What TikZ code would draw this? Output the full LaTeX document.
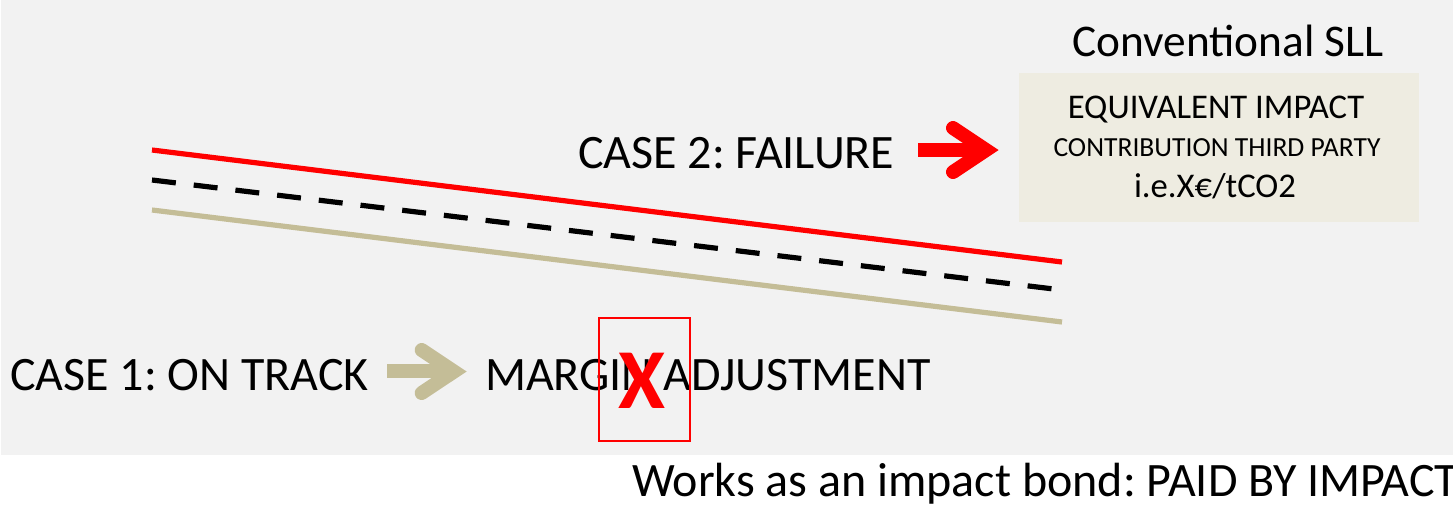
\documentclass[tikz,border=0pt]{standalone}
\usepackage{fontspec}
\setmainfont{Carlito}
\frenchspacing
\definecolor{bggray}{HTML}{F2F2F2}
\definecolor{tan}{HTML}{C4BD97}
\definecolor{boxtan}{HTML}{EEECE1}
\definecolor{pptred}{HTML}{FF0000}
\begin{document}
\begin{tikzpicture}[x=0.75pt,y=-0.75pt,
  txt/.style={inner sep=0pt,outer sep=0pt,anchor=base,font=\fontsize{36}{40}\selectfont},
  boxtxt/.style={inner sep=0pt,outer sep=0pt,anchor=base,font=\fontsize{26}{30}\selectfont},
  boxsmall/.style={inner sep=0pt,outer sep=0pt,anchor=base,font=\fontsize{20.7}{24}\selectfont},
  trend/.style={line width=3.9pt},
  shaft/.style={line width=10pt},
  chevron/.style={line width=10.5pt,line cap=round,line join=miter}]
\useasboundingbox (0,0) rectangle (1453,504);
\fill[white] (0,0) rectangle (1453,504);
\fill[bggray] (1,0) rectangle (1453,455);
% trend lines
\draw[trend,pptred] (152,150) -- (1062,262);
\draw[trend,black,dash pattern=on 18pt off 13.5pt] (152,180) -- (1062,290);
\draw[trend,tan] (152,210) -- (1062,322);
% box
\node[fill=boxtan,minimum width=300pt,minimum height=111.75pt,inner sep=0pt,anchor=north west] (box) at (1019,73) {};
\node[txt,font=\fontsize{34}{38}\selectfont] (title) at (1228,56) {Conventional SLL};
\node[boxtxt] (eq) at (1216,118) {EQUIVALENT IMPACT};
\node[boxsmall] (contr) at (1217,156) {CONTRIBUTION THIRD PARTY};
\node[boxtxt] (ie) at (1215,197) {i.e.X€/tCO2};
% case 2
\node[txt,anchor=base west] (case2) at (578,168) {CASE 2: FAILURE};
\draw[shaft,pptred] (918,150) -- (981,150);
\draw[chevron,pptred] (953,128) -- (986,150) -- (953,172);
% case 1
\node[txt,anchor=base west] (case1) at (10,390) {CASE 1: ON TRACK};
\draw[shaft,tan] (387,371) -- (449,371);
\draw[chevron,tan] (421.7,350) -- (454,371.5) -- (421.7,393);
\node[txt,anchor=base west] (margin) at (485,390) {MARGIN ADJUSTMENT};
\node[draw=pptred,line width=1.2pt,minimum width=68.25pt,minimum height=92.25pt,inner sep=0pt,anchor=north west] (xbox) at (598,317) {};
\node[inner sep=0pt,anchor=base,text=pptred,font=\fontsize{64}{70}\selectfont\bfseries] (xmark) at (641.5,408) {X};
% bottom
\node[txt,anchor=base west] (bottom) at (632,496) {Works as an impact bond: PAID BY IMPACT};
\end{tikzpicture}
\end{document}
